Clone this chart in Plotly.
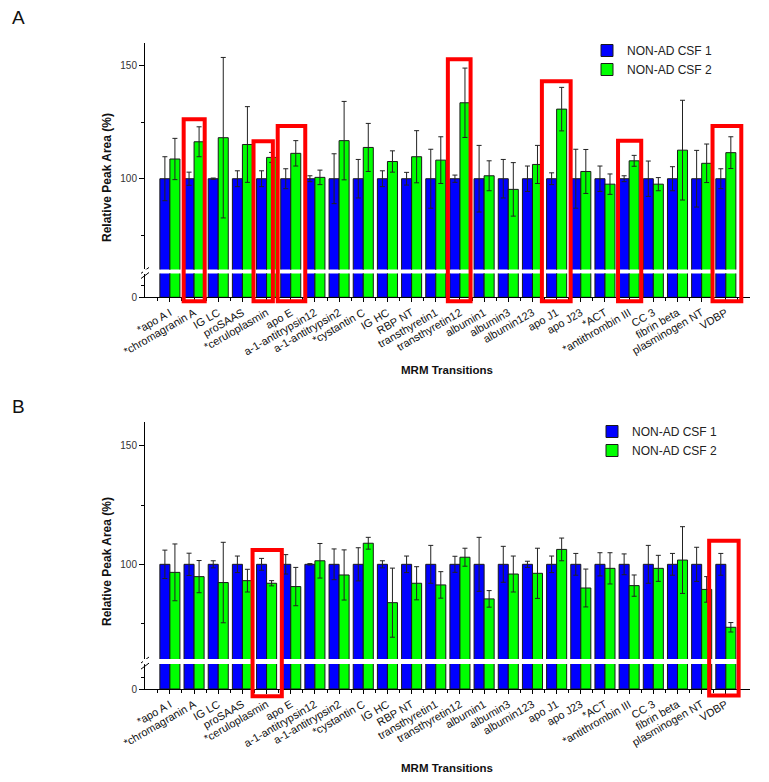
import plotly.graph_objects as go

# ---------------- data ----------------
categories = ["*apo A I", "*chromagranin A", "IG LC", "proSAAS", "*ceruloplasmin", "apo E",
              "a-1-antitrypsin12", "a-1-antitrypsin2", "*cystantin C", "IG HC", "RBP NT",
              "transthyretin1", "transthyretin12", "albumin1", "albumin3", "albumin123",
              "apo J1", "apo J23", "*ACT", "*antithrombin III", "CC 3", "fibrin beta",
              "plasminogen NT", "VDBP"]

series_names = ["NON-AD CSF 1", "NON-AD CSF 2"]

# Panel A
A_csf1 = [100, 100, 100, 100, 100, 100, 100, 100, 100, 100, 100, 100,
          100, 100, 100, 100, 100, 100, 100, 100, 100, 100, 100, 100]
A_csf1_err = [9.7, 2.9, 0.3, 3.5, 3.5, 4.4, 1.3, 11.0, 8.5, 3.5, 2.8, 13.0,
              1.6, 14.7, 8.5, 5.6, 2.6, 13.0, 5.6, 1.3, 7.8, 5.3, 12.5, 4.4]
A_csf2 = [108.7, 116.3, 118.1, 115.1, 109.4, 111.2, 100.6, 116.8, 113.8, 107.6, 109.7, 108.2,
          133.5, 101.3, 95.3, 106.3, 130.7, 103.2, 97.6, 107.9, 97.6, 112.6, 106.8, 111.5]
A_csf2_err = [9.1, 6.6, 35.4, 16.7, 2.2, 5.6, 3.2, 17.3, 10.6, 4.7, 11.5, 10.3,
              15.3, 6.6, 11.8, 8.4, 9.6, 9.7, 4.5, 2.4, 2.9, 22.0, 8.5, 7.0]
A_highlight = ["*chromagranin A", "*ceruloplasmin", "apo E", "transthyretin12",
               "apo J1", "*antithrombin III", "VDBP"]

# Panel B
B_csf1 = [100, 100, 100, 100, 100, 100, 100, 100, 100, 100, 100, 100,
          100, 100, 100, 100, 100, 100, 100, 100, 100, 100, 100, 100]
B_csf1_err = [6.0, 4.7, 1.5, 3.5, 2.5, 4.1, 0.3, 6.5, 7.0, 1.5, 3.5, 8.0,
              3.4, 11.4, 7.6, 1.3, 3.5, 4.6, 4.9, 4.4, 8.0, 4.6, 7.2, 4.6]
B_csf2 = [96.6, 94.8, 92.3, 93.1, 92.0, 90.6, 101.5, 95.5, 108.9, 83.8, 92.0, 91.3,
          103.0, 85.4, 95.9, 96.2, 106.3, 90.0, 98.3, 91.0, 98.3, 101.8, 89.4, 73.4]
B_csf2_err = [12.0, 6.8, 17.0, 4.8, 1.1, 8.1, 7.3, 10.6, 2.5, 14.6, 7.0, 5.6,
              3.8, 3.5, 7.6, 10.6, 4.8, 8.0, 6.6, 4.5, 5.5, 14.1, 5.4, 2.0]
B_highlight = ["*ceruloplasmin", "VDBP"]

# ---------------- styling helpers ----------------
# the page body has an 8px default margin, so the figure is sized to fit inside it
OFF = 8
W, H = 769 - OFF, 782 - OFF
def fy(p):  # window pixel row -> paper fraction
    return 1 - (p - OFF) / H
def fx(p):
    return (p - OFF) / W

FONT = "Arial, Liberation Sans, sans-serif"
COLORS = ["#0000ff", "#00ff00"]
xpos = list(range(len(categories)))

panels = [
    dict(x="x", yu="y", yl="y2", legend="legend",
         vals=[(A_csf1, A_csf1_err), (A_csf2, A_csf2_err)]),
    dict(x="x2", yu="y3", yl="y4", legend="legend2",
         vals=[(B_csf1, B_csf1_err), (B_csf2, B_csf2_err)]),
]

fig = go.Figure()
for p in panels:
    for name, (v, e), col in zip(series_names, p["vals"], COLORS):
        fig.add_trace(go.Bar(
            x=xpos, y=v, name=name, legend=p["legend"],
            marker=dict(color=col, line=dict(color="#1a1a1a", width=1)),
            error_y=dict(type="data", array=e, color="#222222", thickness=1, width=2.5),
            xaxis=p["x"], yaxis=p["yu"]))
        fig.add_trace(go.Bar(
            x=xpos, y=v, name=name, showlegend=False,
            marker=dict(color=col, line=dict(color="#1a1a1a", width=1)),
            xaxis=p["x"], yaxis=p["yl"]))

# geometry (pixels) of each panel
geo = {
    "A": dict(up=(42.7, 269.4), low=(273.5, 297.3)),
    "B": dict(up=(422.3, 659.0), low=(664.1, 689.0)),
}
xdom = [fx(145), fx(750)]
xrange_ = [-1.03, 24.0]

def xaxis(anchor):
    return dict(domain=xdom, anchor=anchor, range=xrange_, tickmode="array",
                tickvals=xpos, ticktext=categories, tickangle=-30, automargin=False,
                ticks="outside", ticklen=4, tickcolor="#000",
                minor=dict(ticks="outside", ticklen=3, tick0=0.5, dtick=1, tickcolor="#000"),
                showline=True, linecolor="#000", linewidth=1,
                showgrid=False, zeroline=False,
                tickfont=dict(family=FONT, size=11, color="#111"))

def yaxis_up(dom, anchor):
    return dict(domain=[fy(dom[1]), fy(dom[0])], anchor=anchor, range=[60, 160],
                tickvals=[100, 150], ticks="outside", ticklen=5, tickcolor="#000",
                automargin=False,
                minor=dict(ticks="outside", ticklen=3, tick0=25, dtick=50, tickcolor="#000"),
                showline=True, linecolor="#000", linewidth=1, showgrid=False, zeroline=False,
                tickfont=dict(family=FONT, size=10, color="#333"))

def yaxis_low(dom, anchor):
    return dict(domain=[fy(dom[1]), fy(dom[0])], anchor=anchor, range=[0, 10.5],
                tickvals=[0], ticks="outside", ticklen=5, tickcolor="#000",
                automargin=False,
                minor=dict(ticks="outside", ticklen=3, tick0=5, dtick=10, tickcolor="#000"),
                showline=True, linecolor="#000", linewidth=1, showgrid=False, zeroline=False,
                tickfont=dict(family=FONT, size=10, color="#333"))

fig.update_layout(
    width=W, height=H, margin=dict(l=0, r=0, t=0, b=0, pad=0, autoexpand=False),
    paper_bgcolor="white", plot_bgcolor="white",
    barmode="group", bargap=0.17, bargroupgap=0,
    font=dict(family=FONT, color="#111"),
    xaxis=xaxis("y2"),
    yaxis=yaxis_up(geo["A"]["up"], "x"),
    yaxis2=yaxis_low(geo["A"]["low"], "x"),
    xaxis2=xaxis("y4"),
    yaxis3=yaxis_up(geo["B"]["up"], "x2"),
    yaxis4=yaxis_low(geo["B"]["low"], "x2"),
    legend=dict(x=fx(587), y=fy(36), xanchor="left", yanchor="top",
                font=dict(family=FONT, size=12, color="#222"), bgcolor="rgba(0,0,0,0)"),
    legend2=dict(x=fx(592), y=fy(417), xanchor="left", yanchor="top",
                 font=dict(family=FONT, size=12, color="#222"), bgcolor="rgba(0,0,0,0)"),
)

# ---------------- annotations ----------------
ann = []
def note(text, x, y, size, angle=0):
    return dict(text=text, x=fx(x), y=fy(y), xref="paper", yref="paper",
                xanchor="center", yanchor="middle", textangle=angle, showarrow=False,
                font=dict(family=FONT, size=size, color="#111"))
for letter, yy in [("A", 17), ("B", 406)]:
    ann.append(note(letter, 18, yy, 19))
for yy in [178, 562]:
    ann.append(note("<b>Relative Peak Area (%)</b>", 107, yy, 12, -90))
for yy in [370, 768]:
    ann.append(note("<b>MRM Transitions</b>", 447, yy, 11.5))
fig.update_layout(annotations=ann)

# ---------------- red highlight boxes & axis breaks ----------------
shapes = []
# (x0 offset, x1 offset, top px) per highlighted category
boxA = {"*chromagranin A": (-0.43, 0.44, 119.3), "*ceruloplasmin": (-0.54, 0.26, 141.3),
        "apo E": (-0.54, 0.60, 126.0), "transthyretin12": (-0.50, 0.44, 59.3),
        "apo J1": (-0.61, 0.58, 81.3), "*antithrombin III": (-0.46, 0.50, 140.7),
        "VDBP": (-0.55, 0.64, 126.0)}
for c in A_highlight:
    i = categories.index(c)
    a, b, top = boxA[c]
    shapes.append(dict(type="rect", xref="x", yref="paper", x0=i + a, x1=i + b,
                       y0=fy(301.3), y1=fy(top), line=dict(color="#ff0000", width=4),
                       fillcolor="rgba(0,0,0,0)", layer="above"))
boxB = {"*ceruloplasmin": (-0.58, 0.63, 550.0, 696.3), "VDBP": (-0.69, 0.53, 540.7, 695.5)}
for c in B_highlight:
    i = categories.index(c)
    a, b, top, bot = boxB[c]
    shapes.append(dict(type="rect", xref="x2", yref="paper", x0=i + a, x1=i + b,
                       y0=fy(bot), y1=fy(top), line=dict(color="#ff0000", width=4),
                       fillcolor="rgba(0,0,0,0)", layer="above"))

for g in geo.values():
    up_bot = g["up"][1]
    low_top = g["low"][0]
    for yb in [up_bot + 1, low_top + 2]:
        shapes.append(dict(type="line", xref="paper", yref="paper",
                           x0=fx(141), y0=fy(yb + 3), x1=fx(149), y1=fy(yb - 3),
                           line=dict(color="#000", width=1)))
    shapes.append(dict(type="rect", xref="paper", yref="paper",
                       x0=fx(143), x1=fx(147), y0=fy(low_top), y1=fy(up_bot),
                       line=dict(width=0), fillcolor="white"))
fig.update_layout(shapes=shapes)

fig.write_html("out.html")
